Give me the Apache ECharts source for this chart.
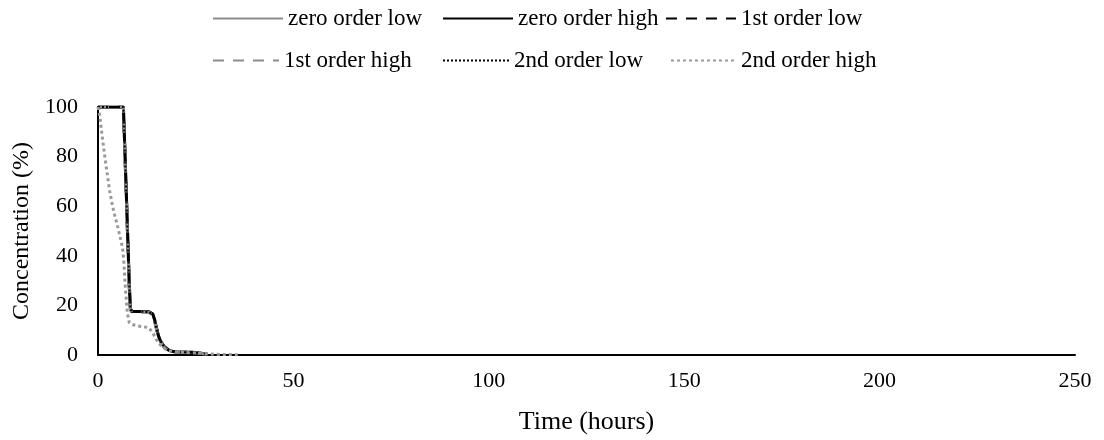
<!DOCTYPE html>
<html>
<head>
<meta charset="utf-8">
<script src="https://cdn.jsdelivr.net/npm/echarts@6/dist/echarts.min.js"></script>
<style>
  html, body { margin: 0; padding: 0; background: #fff; }
  #main { width: 1104px; height: 440px; }
</style>
</head>
<body>
<div id="main"></div>
<script>
// 时间点 (hours)
var tStep = [0, 6.5, 7, 7.5, 8, 8.3, 8.7, 10, 12, 13, 13.5, 14, 14.5, 15, 15.5, 16, 17, 18, 19, 20, 22, 24, 25, 26, 27, 28];
var zeroLow  = [100, 100, 76, 52, 28, 18.5, 17.5, 17.5, 17.5, 17.4, 17.2, 16.5, 14, 10.5, 7.5, 5.5, 3.2, 2, 1.4, 1.2, 1.1, 1.1, 1.0, 0.8, 0.5, 0.3];
var zeroHigh = [100, 100, 77, 53, 29, 18.8, 17.6, 17.5, 17.5, 17.4, 17.2, 16.6, 14.2, 10.7, 7.6, 5.6, 3.3, 2.1, 1.5, 1.2, 1.1, 1.1, 1.0, 0.8, 0.5, 0.3];
var firstLow  = [100, 100, 76, 52, 28, 18.4, 17.4, 17.4, 17.4, 17.3, 17.1, 16.4, 13.8, 10.3, 7.3, 5.4, 3.1, 2, 1.4, 1.2, 1.1, 1.0, 0.9, 0.7, 0.5, 0.3];
var firstHigh = [100, 100, 75, 51, 27, 18.2, 17.3, 17.3, 17.3, 17.2, 17.0, 16.2, 13.6, 10.1, 7.2, 5.3, 3.0, 1.9, 1.3, 1.1, 1.0, 1.0, 0.9, 0.7, 0.5, 0.3];
var secondLow = [100, 100, 76, 52, 28, 18.5, 17.5, 17.5, 17.4, 17.3, 17.1, 16.5, 14, 10.4, 7.4, 5.5, 3.2, 2, 1.4, 1.2, 1.1, 1.0, 0.9, 0.7, 0.5, 0.3];

var tSecondHigh = [0, 0.5, 1, 1.5, 2, 2.5, 3, 4, 5, 5.6, 6.3, 6.6, 7, 7.5, 8, 9, 10, 11, 12, 13, 13.5, 14, 15, 16, 17, 18, 20, 22, 24, 26, 28, 30, 32, 34, 36];
var secondHigh  = [100, 96, 89, 83, 77, 71.5, 66, 58, 52, 48, 43, 38, 27, 17, 13, 12.2, 11.8, 11.5, 11.3, 11, 10.5, 9, 6, 4, 2.7, 1.8, 1.2, 1.0, 0.9, 0.8, 0.5, 0.3, 0.2, 0.2, 0.1];

var xTicks = [0, 50, 100, 150, 200, 250];
var yTicks = [0, 20, 40, 60, 80, 100];

function pairs(t, v) {
    return t.map(function (x, i) { return [x, v[i]]; });
}

var font = 'Liberation Serif';
var myChart = echarts.init(document.getElementById('main'));

function lineSeries(name, t, v, color, width, type) {
    return {
        name: name,
        type: 'line',
        symbol: 'none',
        showSymbol: false,
        data: pairs(t, v),
        lineStyle: { color: color, width: width, type: type },
        itemStyle: { color: color }
    };
}

// 每个图例项单独放置 (两行三列)
function legendItem(name, left, top, iconW) {
    return {
        data: [name],
        left: left, top: top,
        itemWidth: iconW, itemHeight: 14, itemGap: 0,
        itemStyle: { color: 'rgba(0,0,0,0)', borderWidth: 0, opacity: 0 },
        textStyle: { fontFamily: font, fontSize: 23, color: '#000' }
    };
}

myChart.setOption({
    animation: false,
    //图例
    legend: [
        legendItem('zero order low', 207, 2, 70),
        legendItem('zero order high', 437, 2, 70),
        legendItem('1st order low', 660, 2, 70),
        legendItem('1st order high', 207, 44, 66),
        legendItem('2nd order low', 437, 44, 66),
        legendItem('2nd order high', 665, 44, 65)
    ],
    grid: { left: 98, right: 29, top: 107, bottom: 84 },
    xAxis: {
        type: 'value',
        min: xTicks[0], max: xTicks[xTicks.length - 1], interval: 50,
        name: 'Time (hours)',
        nameLocation: 'middle',
        nameGap: 54,
        nameTextStyle: { fontFamily: font, fontSize: 26, color: '#000' },
        axisLine: { show: true, lineStyle: { color: '#000', width: 2 } },
        axisTick: { show: false },
        splitLine: { show: false },
        axisLabel: { fontFamily: font, fontSize: 22, color: '#000', margin: 15 }
    },
    yAxis: {
        type: 'value',
        min: yTicks[0], max: yTicks[yTicks.length - 1], interval: 20,
        name: 'Concentration (%)',
        nameLocation: 'middle',
        nameGap: 62,
        nameTextStyle: { fontFamily: font, fontSize: 24, color: '#000' },
        axisLine: { show: true, lineStyle: { color: '#000', width: 2 } },
        axisTick: { show: false },
        splitLine: { show: false },
        axisLabel: { fontFamily: font, fontSize: 22, color: '#000', margin: 20 }
    },
    series: [
        lineSeries('zero order low', tStep, zeroLow, '#8c8c8c', 3, 'solid'),
        lineSeries('zero order high', tStep, zeroHigh, '#000', 3, 'solid'),
        lineSeries('1st order low', tStep, firstLow, '#000', 3, [11, 9]),
        lineSeries('1st order high', tStep, firstHigh, '#8c8c8c', 3, [11, 9]),
        lineSeries('2nd order low', tStep, secondLow, '#000', 2, [2, 2]),
        lineSeries('2nd order high', tSecondHigh, secondHigh, '#999', 3, [3, 3])
    ]
});
</script>
</body>
</html>
